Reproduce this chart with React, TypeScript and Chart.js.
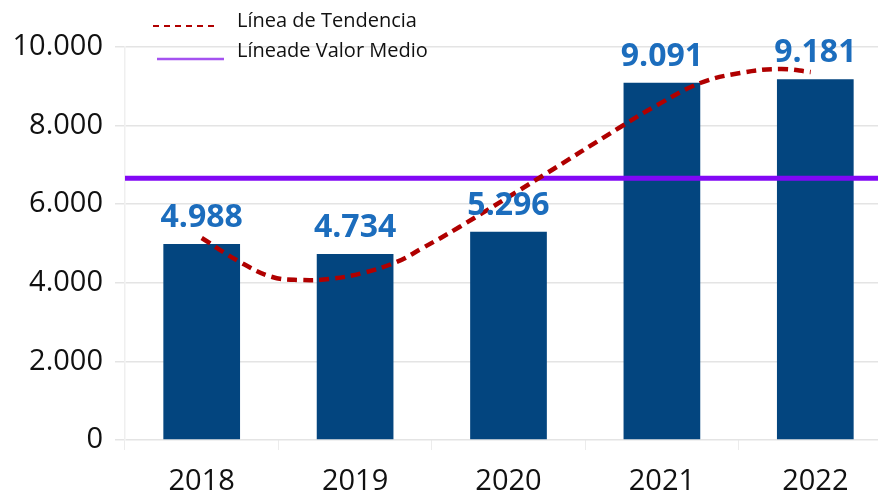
import React, { useEffect, useRef } from "react";
import { Chart, registerables } from "chart.js";

Chart.register(...registerables);

const CATEGORIES = ["2018", "2019", "2020", "2021", "2022"];
const VALUES = [4988, 4734, 5296, 9091, 9181];
// trend line, positions in category units (0 = 2018)
const TREND_X = [0, 0.25, 0.46, 0.64, 0.83, 1.05, 1.27, 1.44, 1.68, 2.22, 2.73, 2.97, 3.25, 3.51, 3.77, 3.97];
const TREND_Y = [5140, 4529, 4148, 4071, 4097, 4249, 4529, 4885, 5420, 6718, 7964, 8524, 9084, 9338, 9440, 9364];
const MEAN_VALUE = 6658;
const Y_MAX = 10000;
const Y_STEP = 2000;
const LEGEND_LABELS = ["Línea de Tendencia", "Líneade Valor Medio"];

const FONT = "'Open Sans', 'Noto Sans', sans-serif";
const BAR_COLOR = "#03457f";
const LABEL_COLOR = "#1c6dbd";
const TREND_COLOR = "#b00000";
const MEAN_COLOR = "#8208f5";
const LEGEND_MEAN_COLOR = "#a452f0";

const fmt = (n: number) =>
  String(Math.round(n)).replace(/\B(?=(\d{3})+(?!\d))/g, ".");

const chartPlugin = {
  id: "customDraw",
  beforeDatasetDraw(chart: any, args: any) {
    if (args.index !== 1) return;
    const { ctx, chartArea, scales } = chart;
    const y = scales.y.getPixelForValue(MEAN_VALUE);
    ctx.save();
    ctx.strokeStyle = MEAN_COLOR;
    ctx.lineWidth = 5;
    ctx.beginPath();
    ctx.moveTo(chartArea.left, y);
    ctx.lineTo(chartArea.right, y);
    ctx.stroke();
    ctx.restore();
  },
  afterDatasetsDraw(chart: any) {
    const { ctx } = chart;
    const meta = chart.getDatasetMeta(0);
    ctx.save();
    ctx.font = `bold 32px ${FONT}`;
    ctx.fillStyle = LABEL_COLOR;
    ctx.textAlign = "center";
    ctx.textBaseline = "alphabetic";
    meta.data.forEach((bar: any, i: number) => {
      ctx.fillText(fmt(VALUES[i]), bar.x, bar.y - 17);
    });
    ctx.restore();
  },
  afterDraw(chart: any) {
    const { ctx } = chart;
    ctx.save();
    ctx.strokeStyle = TREND_COLOR;
    ctx.lineWidth = 2;
    ctx.setLineDash([6, 5]);
    ctx.beginPath();
    ctx.moveTo(153, 26);
    ctx.lineTo(219, 26);
    ctx.stroke();
    ctx.setLineDash([]);
    ctx.strokeStyle = LEGEND_MEAN_COLOR;
    ctx.lineWidth = 2.5;
    ctx.beginPath();
    ctx.moveTo(157, 59);
    ctx.lineTo(224, 59);
    ctx.stroke();
    ctx.font = `20px ${FONT}`;
    ctx.fillStyle = "#111111";
    ctx.textAlign = "left";
    ctx.textBaseline = "alphabetic";
    ctx.fillText(LEGEND_LABELS[0], 237, 27);
    ctx.fillText(LEGEND_LABELS[1], 237, 57);
    ctx.restore();
  },
};

export default function App() {
  const ref = useRef<HTMLCanvasElement>(null);

  useEffect(() => {
    if (!ref.current) return;
    const trendData = TREND_X.map((x, i) => ({ x, y: TREND_Y[i] }));
    const chart = new Chart(ref.current, {
      type: "bar",
      data: {
        labels: CATEGORIES,
        datasets: [
          {
            type: "bar",
            data: VALUES,
            backgroundColor: BAR_COLOR,
            categoryPercentage: 1,
            barPercentage: 0.5,
            grouped: false,
            xAxisID: "x",
            order: 1,
          } as any,
          {
            type: "line",
            data: trendData,
            xAxisID: "xt",
            borderColor: TREND_COLOR,
            borderWidth: 4.5,
            borderDash: [10, 6],
            pointRadius: 0,
            tension: 0.4,
            fill: false,
            order: 0,
          } as any,
        ],
      },
      options: {
        responsive: false,
        animation: false,
        events: [],
        layout: { padding: { top: 47, right: 8, left: 0, bottom: 0 } },
        plugins: {
          legend: { display: false },
          tooltip: { enabled: false },
        },
        scales: {
          x: {
            afterFit: (s: any) => {
              s.height = 54;
            },
            grid: {
              drawOnChartArea: false,
              drawTicks: true,
              tickLength: 10,
              color: "#ececec",
            },
            border: { display: false },
            ticks: {
              color: "#111111",
              font: { family: FONT, size: 29 },
              padding: 14,
            },
          },
          xt: {
            type: "linear",
            display: false,
            offset: false,
            grid: { offset: false },
            min: -0.5,
            max: 4.5,
          },
          y: {
            min: 0,
            max: Y_MAX,
            afterFit: (s: any) => {
              s.width = 125;
            },
            grid: {
              color: "#e4e4e4",
              lineWidth: 1.5,
              tickLength: 10,
            },
            border: { display: true, color: "#efefef", width: 1.5 },
            ticks: {
              stepSize: Y_STEP,
              color: "#111111",
              font: { family: FONT, size: 29 },
              padding: 12,
              callback: (v: any) => fmt(Number(v)),
            },
          },
        },
      } as any,
      plugins: [chartPlugin],
    });
    return () => chart.destroy();
  }, []);

  return (
    <div
      style={{
        position: "fixed",
        left: 0,
        top: 0,
        width: 878,
        height: 494,
        overflow: "hidden",
        background: "#ffffff",
      }}
    >
      <canvas ref={ref} width={900} height={494} style={{ display: "block" }} />
    </div>
  );
}
